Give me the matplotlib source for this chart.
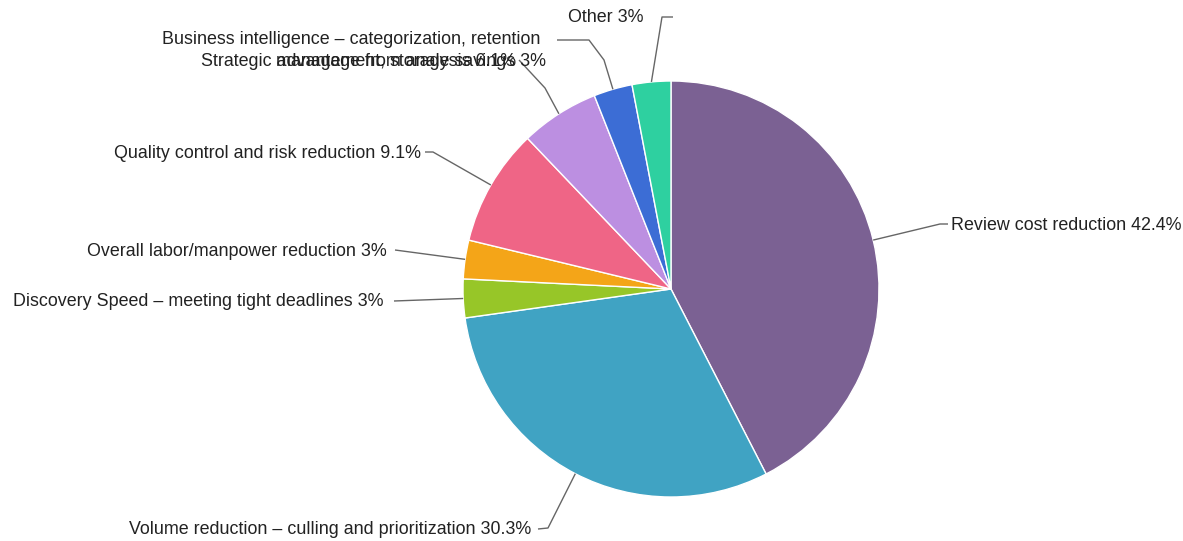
import numpy as np
import matplotlib.pyplot as plt

plt.rcParams['font.family'] = ['Liberation Sans', 'DejaVu Sans']

categories = [
    "Review cost reduction",
    "Volume reduction \u2013 culling and prioritization",
    "Discovery Speed \u2013 meeting tight deadlines",
    "Overall labor/manpower reduction",
    "Quality control and risk reduction",
    "Strategic advantage from analysis",
    "Business intelligence \u2013 categorization, retention\nmanagement, storage savings",
    "Other",
]
shares = [42.4, 30.3, 3, 3, 9.1, 6.1, 3, 3]
colors = ["#7b6193", "#40a3c3", "#97c628", "#f4a518", "#ef6586",
          "#bc8fe1", "#3c6dd5", "#2ed0a0"]

W, H = 1183, 541
cx, cy, R = 671, 289, 208
FS = 12.9

fig = plt.figure(figsize=(W / 100, H / 100), dpi=100)
ax = fig.add_axes([0, 0, 1, 1])

wedges, _ = ax.pie(shares, colors=colors, startangle=90, counterclock=False,
                   radius=1, center=(0, 0),
                   wedgeprops=dict(edgecolor="white", linewidth=1))
ax.set_xlim(-cx / R, (W - cx) / R)
ax.set_ylim(-(H - cy) / R, cy / R)
ax.set_aspect("equal")
ax.axis("off")


def px(x, y):
    # pixel position (from top-left) to data coords
    return (x - cx) / R, (cy - y) / R


# leader line bends (pixels) and label anchors: (bend points, text x, text y, ha)
layout = [
    ([(940, 224), (948, 224)], 951, 225, "left"),
    ([(548, 528), (538, 529)], 531, 530, "right"),
    ([(394, 301)], 384, 302, "right"),
    ([(395, 250)], 387, 251, "right"),
    ([(433, 152), (425, 152)], 421, 153, "right"),
    ([(545, 88), (519, 60)], 516, 62, "right"),
    ([(604, 60), (589, 40), (557, 40)], 540, 40, "right"),
    ([(662, 17), (673, 17)], 643, 17, "right"),
]

for w, name, val, (bends, tx, ty, ha) in zip(wedges, categories, shares, layout):
    mid = np.deg2rad((w.theta1 + w.theta2) / 2)
    pts = [(np.cos(mid), np.sin(mid))] + [px(*b) for b in bends]
    xs, ys = zip(*pts)
    ax.plot(xs, ys, color="#666666", lw=1, solid_capstyle="butt")
    if "\n" in name:
        # wrapped label: second line drawn just below the first
        first, second = name.split("\n")
        ax.text(*px(tx, ty), first, ha=ha, va="center", fontsize=FS, color="#222222")
        ax.text(*px(tx + 6, ty + 22), f"{second} {val:g}%", ha=ha, va="center",
                fontsize=FS, color="#222222")
    else:
        ax.text(*px(tx, ty), f"{name} {val:g}%", ha=ha, va="center",
                fontsize=FS, color="#222222")

fig.savefig("out.png", dpi=100)
